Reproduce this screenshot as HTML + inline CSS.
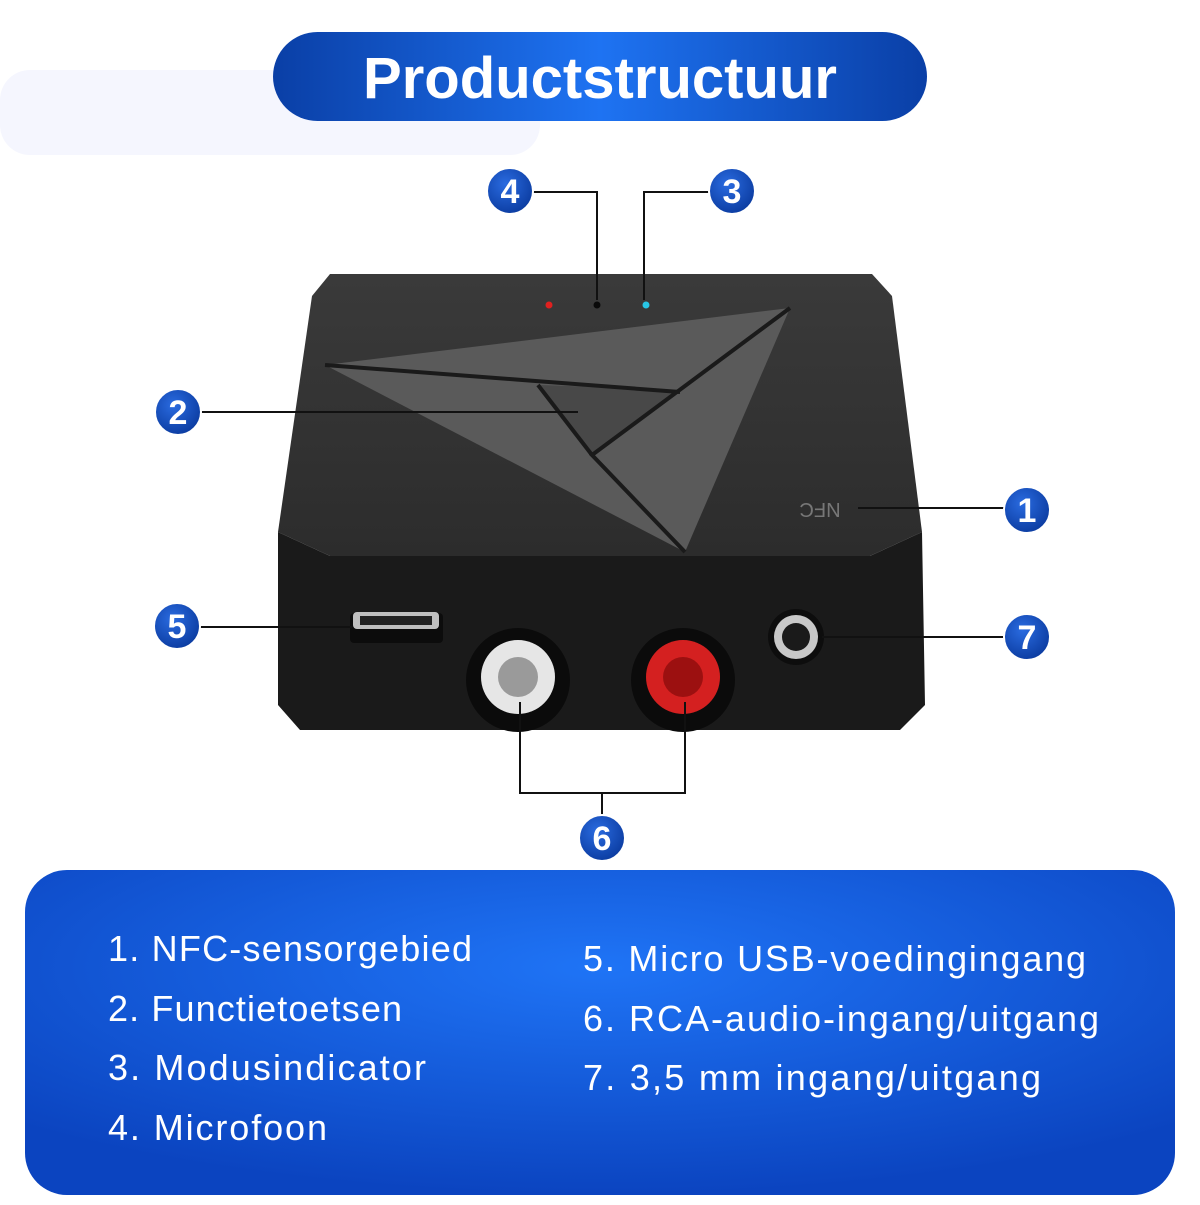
<!DOCTYPE html>
<html><head><meta charset="utf-8"><style>
body{margin:0;width:1200px;height:1200px;background:#fff;overflow:hidden;font-family:"Liberation Sans",sans-serif}
</style></head><body>
<svg width="1200" height="1200" viewBox="0 0 1200 1200" xmlns="http://www.w3.org/2000/svg">
<defs>
<linearGradient id="pill" x1="0" x2="1" y1="0" y2="0"><stop offset="0" stop-color="#0a3fa6"/><stop offset=".5" stop-color="#1e73f2"/><stop offset="1" stop-color="#0a3fa6"/></linearGradient>
<radialGradient id="panel" cx=".5" cy=".3" r=".7"><stop offset="0" stop-color="#1f74f6"/><stop offset="1" stop-color="#0b44c0"/></radialGradient>
<linearGradient id="top" x1="0" y1="0" x2="0" y2="1"><stop offset="0" stop-color="#3a3a3a"/><stop offset="1" stop-color="#2c2c2c"/></linearGradient>
<radialGradient id="badge" cx=".4" cy=".35" r=".7"><stop offset="0" stop-color="#2a6be0"/><stop offset="1" stop-color="#0a3a9e"/></radialGradient>
</defs>
<rect x="0" y="70" width="540" height="85" rx="30" fill="#f5f6fe"/>
<rect x="273" y="32" width="654" height="89" rx="44.5" fill="url(#pill)"/>
<text x="600" y="98" text-anchor="middle" font-size="58" font-weight="bold" fill="#fff" textLength="474" lengthAdjust="spacingAndGlyphs">Productstructuur</text>

<!-- device -->
<polygon points="330,274 872,274 892,296 922,532 870,556 330,556 278,532 312,296" fill="url(#top)"/>
<polygon points="278,532 330,556 870,556 922,532 925,705 900,730 300,730 278,705" fill="#1a1a1a"/>
<polygon points="325,365 790,308 685,552" fill="#5a5a5a"/>
<polygon points="540,385 680,390 592,453" fill="#484848"/>
<polyline points="325,365 680,392" stroke="#1a1a1a" stroke-width="4" fill="none"/>
<polyline points="790,308 592,455 685,552" stroke="#1a1a1a" stroke-width="4" fill="none"/>
<polyline points="538,385 592,455" stroke="#1a1a1a" stroke-width="4" fill="none"/>
<text x="820" y="517" font-size="20" fill="#777" transform="rotate(180 820 510)" text-anchor="middle">NFC</text>
<circle cx="549" cy="305" r="3.5" fill="#e0201f"/>
<circle cx="597" cy="305" r="3.5" fill="#0a0a0a"/>
<circle cx="646" cy="305" r="3.5" fill="#28c6e6"/>
<!-- usb -->
<rect x="350" y="613" width="93" height="30" rx="4" fill="#0c0c0c"/>
<rect x="353" y="612" width="86" height="17" rx="4" fill="#bfbfbf"/>
<rect x="360" y="616" width="72" height="9" fill="#222"/>
<!-- rca -->
<circle cx="518" cy="680" r="52" fill="#0b0b0b"/>
<circle cx="518" cy="677" r="37" fill="#e6e6e6"/>
<circle cx="518" cy="677" r="20" fill="#9a9a9a"/>
<circle cx="683" cy="680" r="52" fill="#0b0b0b"/>
<circle cx="683" cy="677" r="37" fill="#d42020"/>
<circle cx="683" cy="677" r="20" fill="#9c1010"/>
<circle cx="796" cy="637" r="28" fill="#0d0d0d"/>
<circle cx="796" cy="637" r="22" fill="#c8c8c8"/>
<circle cx="796" cy="637" r="14" fill="#1a1a1a"/>

<!-- connectors -->
<g stroke="#111" stroke-width="2" fill="none">
<polyline points="532,192 597,192 597,300"/>
<polyline points="710,192 644,192 644,300"/>
<line x1="200" y1="412" x2="578" y2="412"/>
<line x1="858" y1="508" x2="1005" y2="508"/>
<line x1="200" y1="627" x2="352" y2="627"/>
<line x1="822" y1="637" x2="1005" y2="637"/>
<polyline points="520,702 520,793 685,793 685,702"/>
<line x1="602" y1="793" x2="602" y2="816"/>
</g>
<g font-size="34" font-weight="bold" fill="#fff" text-anchor="middle">
<circle cx="510" cy="191" r="23" fill="url(#badge)" stroke="#fff" stroke-width="2"/><text x="510" y="203">4</text>
<circle cx="732" cy="191" r="23" fill="url(#badge)" stroke="#fff" stroke-width="2"/><text x="732" y="203">3</text>
<circle cx="178" cy="412" r="23" fill="url(#badge)" stroke="#fff" stroke-width="2"/><text x="178" y="424">2</text>
<circle cx="1027" cy="510" r="23" fill="url(#badge)" stroke="#fff" stroke-width="2"/><text x="1027" y="522">1</text>
<circle cx="177" cy="626" r="23" fill="url(#badge)" stroke="#fff" stroke-width="2"/><text x="177" y="638">5</text>
<circle cx="1027" cy="637" r="23" fill="url(#badge)" stroke="#fff" stroke-width="2"/><text x="1027" y="649">7</text>
<circle cx="602" cy="838" r="23" fill="url(#badge)" stroke="#fff" stroke-width="2"/><text x="602" y="850">6</text>
</g>

<rect x="25" y="870" width="1150" height="325" rx="42" fill="url(#panel)"/>
<g font-size="36" fill="#fff" lengthAdjust="spacingAndGlyphs">
<text x="108" y="961" textLength="364">1. NFC-sensorgebied</text>
<text x="108" y="1021" textLength="294">2. Functietoetsen</text>
<text x="108" y="1080" textLength="318">3. Modusindicator</text>
<text x="108" y="1140" textLength="219">4. Microfoon</text>
<text x="583" y="971" textLength="503">5. Micro USB-voedingingang</text>
<text x="583" y="1031" textLength="516">6. RCA-audio-ingang/uitgang</text>
<text x="583" y="1090" textLength="458">7. 3,5 mm ingang/uitgang</text>
</g>
</svg>
</body></html>
